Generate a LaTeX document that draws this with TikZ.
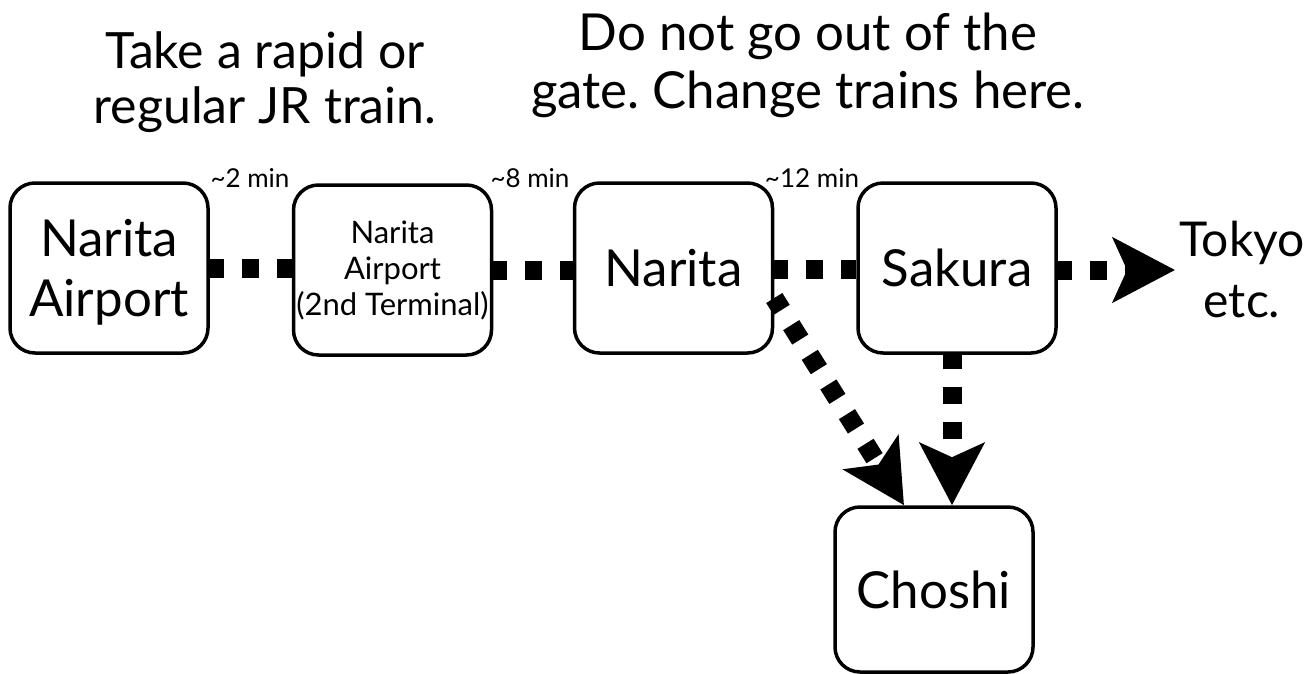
\documentclass[tikz,border=0pt]{standalone}
\usepackage{fontspec}
\setmainfont{Lato}
\usetikzlibrary{arrows.meta}
\newcommand{\nodepth}[1]{\raisebox{0pt}[\height][0pt]{#1}}
\begin{document}
\frenchspacing
\begin{tikzpicture}[x=1pt,y=-1pt,
  station/.style={draw,line width=3.5pt,rounded corners=25pt,minimum width=198pt,align=center,inner sep=0pt},
  big/.style={font=\fontsize{51}{60}\selectfont},
  small/.style={font=\fontsize{31}{36}\selectfont},
  mins/.style={font=\fontsize{26}{28}\selectfont,anchor=base,inner sep=0pt},
  title/.style={align=center,inner sep=0pt},
  rail/.style={line width=19pt,dash pattern=on 17pt off 18pt,dash phase=3pt},
  railtip/.style={rail,-{Stealth[length=62pt,width=64pt,inset=14pt]}}
]
\useasboundingbox (0,0) rectangle (1312,673);
\node[title,font=\fontsize{50}{55}\selectfont] (t1) at (265,82) {Take a rapid or\\regular JR train.};
\node[title,font=\fontsize{51}{58}\selectfont] (t2) at (808,65) {Do not go out of the\\gate. Change trains here.};

\node[station,minimum height=170pt,big] (b1) at (109,268) {Narita\\\nodepth{Airport}};
\node[station,minimum height=170pt,small] (b2) at (392.5,270) {Narita\\Airport\\(2nd Terminal)};
\node[station,minimum height=170pt,big] (b3) at (673.5,268) {Narita};
\node[station,minimum height=170pt,big] (b4) at (957,268) {Sakura};
\node[station,minimum height=165pt,big] (b5) at (934,589.5) {Choshi};
\node[font=\fontsize{48}{61}\selectfont,align=center,inner sep=0pt] (tk) at (1242,270) {Tokyo\\etc.};

\node[mins] (m1) at (250,187) {\textasciitilde 2 min};
\node[mins] (m2) at (530,187) {\textasciitilde 8 min};
\node[mins] (m3) at (812,187) {\textasciitilde 12 min};

\draw[rail] (b1.east) -- (b1.east -| b2.west);
\draw[rail] (b2.east) -- (b2.east -| b3.west);
\draw[rail] ([yshift=-1pt]b3.east) -- ([yshift=-1pt]b4.west);
\draw[railtip] ([yshift=-2pt]b4.east) -- ([xshift=-4pt]tk.west);
\draw[railtip] ([yshift=-30pt]b3.east) -- ([xshift=-30pt]b5.north);
\draw[railtip] ([xshift=-5pt]b4.south) -- ([xshift=18pt]b5.north);
\end{tikzpicture}
\end{document}
